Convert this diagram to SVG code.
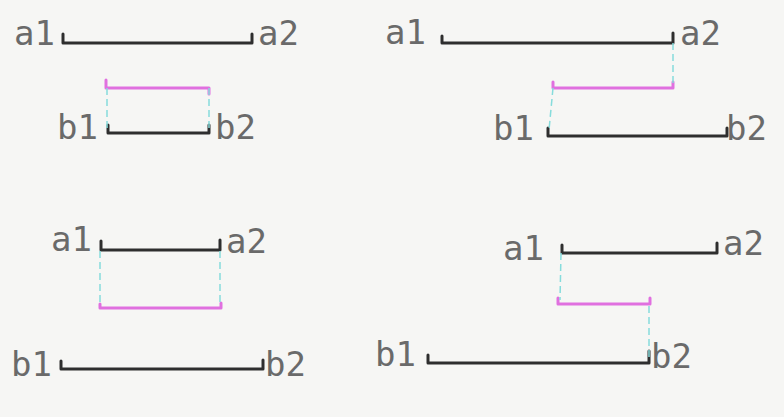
<svg xmlns="http://www.w3.org/2000/svg" width="784" height="417" viewBox="0 0 784 417">
<style>
.lbl{font-family:"DejaVu Sans Mono","Liberation Mono",monospace;font-size:34px;fill:#6a6a6a}
.seg{fill:none;stroke:#2e2e2e;stroke-width:3;stroke-linecap:round;stroke-linejoin:round}
.ov{fill:none;stroke:#e070df;stroke-width:3;stroke-linecap:round;stroke-linejoin:round}
.dash{fill:none;stroke:#86dcdc;stroke-width:1.5;stroke-dasharray:7 4}
</style>
<rect width="784" height="417" fill="#f6f6f4"/>

<g id="panel1">
  <g id="p1-a"><text class="lbl" x="14" y="45">a1</text><path class="seg" d="M63,34 V43 H252 V34"/><text class="lbl" x="258" y="45">a2</text></g>
  <g id="p1-overlap"><path class="ov" d="M106,80 V88 H209 V94"/></g>
  <g id="p1-b"><text class="lbl" x="57" y="139">b1</text><path class="seg" d="M108,125 V133 H209 V125"/><text class="lbl" x="215" y="139">b2</text></g>
</g>

<g id="panel2">
  <g id="p2-a"><text class="lbl" x="385" y="44">a1</text><path class="seg" d="M442,36 V43 H673 V33"/><text class="lbl" x="680" y="45">a2</text></g>
  <g id="p2-overlap"><path class="ov" d="M553,82 V88 H673 V82"/></g>
  <g id="p2-b"><text class="lbl" x="493" y="140">b1</text><path class="seg" d="M548,128 V136 H727 V128"/><text class="lbl" x="726" y="140">b2</text></g>
</g>

<g id="panel3">
  <g id="p3-a"><text class="lbl" x="51" y="251">a1</text><path class="seg" d="M101,241 V250 H220 V240"/><text class="lbl" x="226" y="253">a2</text></g>
  <g id="p3-overlap"><path class="ov" d="M100,304 V308 H221 V303"/></g>
  <g id="p3-b"><text class="lbl" x="11" y="376">b1</text><path class="seg" d="M61,361 V369 H263 V360"/><text class="lbl" x="265" y="376">b2</text></g>
</g>

<g id="panel4">
  <g id="p4-a"><text class="lbl" x="503" y="260">a1</text><path class="seg" d="M562,245 V253 H717 V243"/><text class="lbl" x="723" y="255">a2</text></g>
  <g id="p4-overlap"><path class="ov" d="M558,298 V304 H650 V298"/></g>
  <g id="p4-b"><text class="lbl" x="375" y="366">b1</text><path class="seg" d="M428,355 V363 H649 V351"/><text class="lbl" x="651" y="368">b2</text></g>
</g>

<g id="connectors">
  <line class="dash" x1="107" y1="88" x2="107" y2="128"/>
  <line class="dash" x1="209" y1="88" x2="209" y2="128"/>
  <line class="dash" x1="673" y1="43" x2="673" y2="86"/>
  <line class="dash" x1="553" y1="88" x2="549" y2="130"/>
  <line class="dash" x1="100" y1="251" x2="100" y2="305"/>
  <line class="dash" x1="220" y1="251" x2="220" y2="305"/>
  <line class="dash" x1="561" y1="253" x2="560" y2="300"/>
  <line class="dash" x1="649" y1="306" x2="649" y2="358"/>
</g>
</svg>
